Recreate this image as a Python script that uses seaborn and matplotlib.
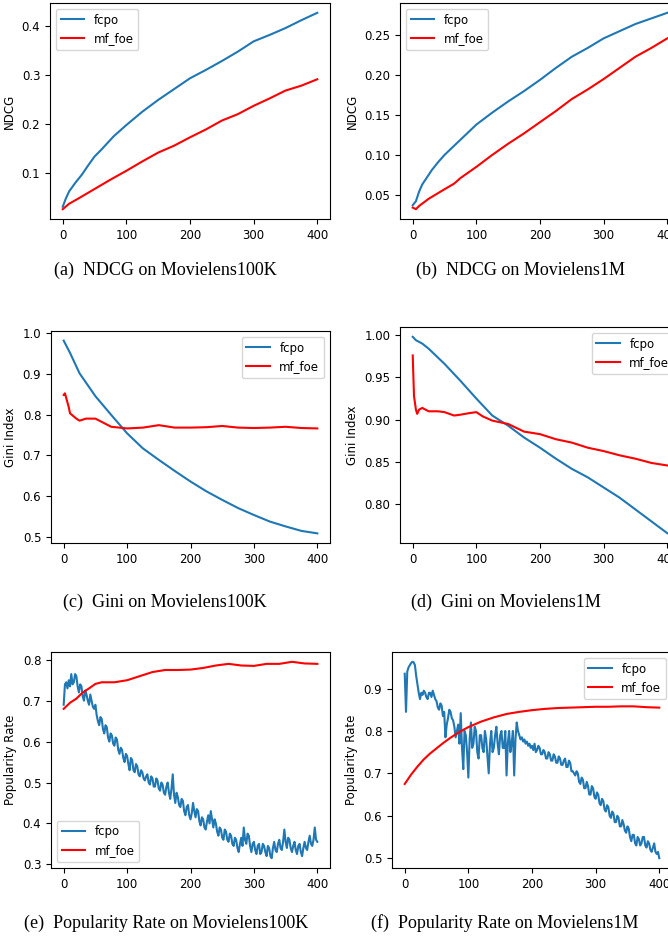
import numpy as np
import matplotlib
matplotlib.use("Agg")
import matplotlib.pyplot as plt
import seaborn as sns

BLUE = "#1f77b4"
RED = "red"

# ---------------- (a) NDCG on Movielens100K ----------------
a_fcpo_x = [0, 5, 10, 20, 30, 40, 50, 60, 70, 80, 100, 125, 150, 175, 200, 225, 250, 275, 300, 325, 350, 375, 400]
a_fcpo_y = [0.032, 0.049, 0.063, 0.081, 0.097, 0.116, 0.134, 0.147, 0.161, 0.175, 0.198, 0.225, 0.249, 0.271,
            0.293, 0.310, 0.328, 0.347, 0.368, 0.381, 0.395, 0.411, 0.426]
a_mf_x = [0, 10, 25, 50, 75, 100, 125, 150, 175, 200, 225, 250, 275, 300, 325, 350, 375, 400]
a_mf_y = [0.027, 0.038, 0.049, 0.068, 0.087, 0.105, 0.124, 0.142, 0.156, 0.173, 0.189, 0.207, 0.220, 0.237,
          0.252, 0.268, 0.278, 0.291]

# ---------------- (b) NDCG on Movielens1M ----------------
b_fcpo_x = [0, 5, 10, 15, 20, 30, 40, 50, 75, 100, 125, 150, 175, 200, 225, 250, 275, 300, 325, 350, 375, 400]
b_fcpo_y = [0.037, 0.042, 0.054, 0.063, 0.069, 0.081, 0.091, 0.100, 0.119, 0.138, 0.153, 0.167, 0.180, 0.194,
            0.209, 0.223, 0.234, 0.246, 0.255, 0.264, 0.271, 0.278]
b_mf_x = [0, 5, 10, 25, 50, 65, 75, 100, 125, 150, 175, 200, 225, 250, 275, 300, 325, 350, 375, 400]
b_mf_y = [0.034, 0.032, 0.036, 0.045, 0.057, 0.064, 0.071, 0.085, 0.100, 0.114, 0.127, 0.141, 0.155, 0.170,
          0.182, 0.195, 0.209, 0.223, 0.234, 0.246]

# ---------------- (c) Gini on Movielens100K ----------------
c_fcpo_x = [0, 10, 25, 50, 75, 100, 125, 150, 175, 200, 225, 250, 275, 300, 325, 350, 375, 400]
c_fcpo_y = [0.981, 0.951, 0.901, 0.845, 0.799, 0.754, 0.717, 0.689, 0.662, 0.636, 0.612, 0.591, 0.571, 0.554,
            0.538, 0.526, 0.515, 0.509]
c_mf_x = [0, 2, 5, 8, 10, 20, 25, 35, 50, 65, 75, 100, 125, 150, 175, 200, 225, 250, 275, 300, 325, 350, 375, 400]
c_mf_y = [0.848, 0.852, 0.835, 0.818, 0.803, 0.790, 0.785, 0.790, 0.790, 0.778, 0.770, 0.766, 0.768, 0.774,
          0.768, 0.768, 0.769, 0.772, 0.768, 0.767, 0.768, 0.770, 0.767, 0.766]

# ---------------- (d) Gini on Movielens1M ----------------
d_fcpo_x = [0, 5, 15, 25, 50, 75, 100, 125, 150, 175, 200, 225, 250, 275, 300, 325, 350, 375, 400]
d_fcpo_y = [0.998, 0.994, 0.990, 0.984, 0.966, 0.946, 0.925, 0.905, 0.893, 0.879, 0.867, 0.854, 0.842, 0.832,
            0.820, 0.808, 0.794, 0.780, 0.766]
d_mf_x = [0, 2, 5, 7, 10, 15, 20, 25, 40, 50, 65, 75, 90, 100, 110, 125, 150, 175, 200, 225, 250, 275, 300,
          325, 350, 375, 400]
d_mf_y = [0.976, 0.928, 0.912, 0.907, 0.912, 0.914, 0.912, 0.910, 0.910, 0.909, 0.905, 0.906, 0.908, 0.909,
          0.904, 0.899, 0.895, 0.886, 0.883, 0.877, 0.873, 0.867, 0.863, 0.858, 0.854, 0.849, 0.846]

# ---------------- (e) Popularity Rate on Movielens100K ----------------
e_fcpo_x = list(range(0, 401, 2))
e_fcpo_y = [0.69, 0.74, 0.745, 0.73, 0.75, 0.735, 0.765, 0.74, 0.745, 0.765, 0.76, 0.735, 0.72, 0.74, 0.735, 0.71, 0.70, 0.725, 0.715, 0.70,
            0.69, 0.715, 0.70, 0.685, 0.68, 0.69, 0.665, 0.65, 0.64, 0.66, 0.655, 0.63, 0.62, 0.64, 0.635, 0.61, 0.60, 0.62, 0.615, 0.595,
            0.59, 0.61, 0.605, 0.58, 0.57, 0.585, 0.58, 0.56, 0.55, 0.57, 0.565, 0.545, 0.53, 0.56, 0.555, 0.53, 0.525, 0.545, 0.54, 0.52,
            0.515, 0.53, 0.525, 0.51, 0.505, 0.515, 0.52, 0.50, 0.495, 0.515, 0.51, 0.49, 0.49, 0.51, 0.505, 0.485, 0.48, 0.50, 0.495, 0.475,
            0.47, 0.49, 0.50, 0.475, 0.46, 0.485, 0.52, 0.47, 0.45, 0.475, 0.465, 0.445, 0.44, 0.46, 0.455, 0.43, 0.42, 0.44, 0.445, 0.42,
            0.41, 0.425, 0.45, 0.43, 0.415, 0.435, 0.43, 0.405, 0.395, 0.415, 0.41, 0.39, 0.385, 0.405, 0.42, 0.40, 0.43, 0.41, 0.39, 0.41,
            0.40, 0.38, 0.37, 0.39, 0.385, 0.365, 0.36, 0.385, 0.38, 0.36, 0.355, 0.375, 0.37, 0.35, 0.345, 0.365, 0.36, 0.34, 0.33, 0.35,
            0.365, 0.345, 0.39, 0.36, 0.35, 0.375, 0.37, 0.345, 0.33, 0.35, 0.355, 0.335, 0.325, 0.345, 0.35, 0.325, 0.33, 0.35, 0.345, 0.33,
            0.32, 0.345, 0.34, 0.32, 0.315, 0.34, 0.355, 0.335, 0.33, 0.35, 0.36, 0.34, 0.335, 0.355, 0.385, 0.355, 0.34, 0.365, 0.36, 0.34,
            0.33, 0.345, 0.355, 0.335, 0.325, 0.345, 0.35, 0.33, 0.32, 0.34, 0.355, 0.34, 0.335, 0.355, 0.37, 0.35, 0.345, 0.36, 0.39, 0.36,
            0.355]
e_mf_x = [0, 10, 20, 30, 40, 50, 60, 80, 100, 120, 140, 160, 180, 200, 220, 240, 260, 280, 300, 320, 340, 360, 380, 400]
e_mf_y = [0.680, 0.695, 0.705, 0.720, 0.730, 0.741, 0.745, 0.745, 0.750, 0.760, 0.770, 0.775, 0.775, 0.776,
          0.780, 0.786, 0.790, 0.786, 0.785, 0.790, 0.790, 0.795, 0.791, 0.790]

# ---------------- (f) Popularity Rate on Movielens1M ----------------
f_fcpo_x = list(range(0, 401, 2))
f_fcpo_y = [0.935, 0.845, 0.94, 0.95, 0.955, 0.96, 0.963, 0.962, 0.955, 0.93, 0.91, 0.89, 0.875, 0.89, 0.885, 0.895, 0.89, 0.88, 0.875, 0.89,
            0.89, 0.88, 0.895, 0.885, 0.875, 0.87, 0.855, 0.85, 0.865, 0.86, 0.835, 0.845, 0.785, 0.815, 0.83, 0.85, 0.845, 0.83, 0.825, 0.81,
            0.785, 0.80, 0.815, 0.77, 0.842, 0.76, 0.71, 0.80, 0.79, 0.75, 0.69, 0.78, 0.82, 0.76, 0.77, 0.81, 0.80, 0.75, 0.735, 0.79,
            0.79, 0.76, 0.75, 0.80, 0.78, 0.74, 0.70, 0.77, 0.80, 0.75, 0.76, 0.79, 0.81, 0.77, 0.745, 0.79, 0.80, 0.76, 0.76, 0.80,
            0.695, 0.77, 0.80, 0.75, 0.77, 0.80, 0.695, 0.78, 0.82, 0.80, 0.79, 0.78, 0.785, 0.775, 0.78, 0.77, 0.775, 0.765, 0.77, 0.76,
            0.765, 0.755, 0.77, 0.75, 0.755, 0.765, 0.76, 0.745, 0.745, 0.755, 0.75, 0.735, 0.735, 0.75, 0.745, 0.73, 0.73, 0.745, 0.74, 0.725,
            0.725, 0.74, 0.735, 0.72, 0.72, 0.73, 0.735, 0.715, 0.715, 0.73, 0.725, 0.705, 0.705, 0.70, 0.695, 0.705, 0.70, 0.68, 0.675, 0.69,
            0.685, 0.665, 0.665, 0.68, 0.67, 0.65, 0.65, 0.67, 0.665, 0.645, 0.64, 0.655, 0.65, 0.63, 0.625, 0.64, 0.635, 0.615, 0.61, 0.625,
            0.62, 0.60, 0.595, 0.61, 0.605, 0.585, 0.585, 0.60, 0.595, 0.575, 0.575, 0.59, 0.58, 0.565, 0.56, 0.575, 0.57, 0.55, 0.54, 0.555,
            0.555, 0.535, 0.53, 0.55, 0.545, 0.53, 0.535, 0.55, 0.55, 0.53, 0.525, 0.54, 0.535, 0.52, 0.515, 0.525, 0.535, 0.515, 0.51, 0.515,
            0.50]
f_mf_x = [0, 10, 20, 30, 40, 50, 60, 70, 80, 90, 100, 120, 140, 160, 180, 200, 220, 240, 260, 280, 300, 320,
          340, 360, 380, 400]
f_mf_y = [0.675, 0.697, 0.716, 0.733, 0.747, 0.759, 0.771, 0.782, 0.792, 0.801, 0.809, 0.822, 0.832, 0.840,
          0.845, 0.849, 0.852, 0.854, 0.855, 0.856, 0.857, 0.857, 0.858, 0.858, 0.856, 0.855]

series_names = ["fcpo", "mf_foe"]
ylabels = ["NDCG", "NDCG", "Gini Index", "Gini Index", "Popularity Rate", "Popularity Rate"]
captions = ["(a)  NDCG on Movielens100K", "(b)  NDCG on Movielens1M",
            "(c)  Gini on Movielens100K", "(d)  Gini on Movielens1M",
            "(e)  Popularity Rate on Movielens100K", "(f)  Popularity Rate on Movielens1M"]
xticks = [0, 100, 200, 300, 400]
yticks = [[0.1, 0.2, 0.3, 0.4],
          [0.05, 0.10, 0.15, 0.20, 0.25],
          [0.5, 0.6, 0.7, 0.8, 0.9, 1.0],
          [0.80, 0.85, 0.90, 0.95, 1.00],
          [0.3, 0.4, 0.5, 0.6, 0.7, 0.8],
          [0.5, 0.6, 0.7, 0.8, 0.9]]
ytick_fmt = ["%.1f", "%.2f", "%.1f", "%.2f", "%.1f", "%.1f"]

panels = [
    (a_fcpo_x, a_fcpo_y, a_mf_x, a_mf_y),
    (b_fcpo_x, b_fcpo_y, b_mf_x, b_mf_y),
    (c_fcpo_x, c_fcpo_y, c_mf_x, c_mf_y),
    (d_fcpo_x, d_fcpo_y, d_mf_x, d_mf_y),
    (e_fcpo_x, e_fcpo_y, e_mf_x, e_mf_y),
    (f_fcpo_x, f_fcpo_y, f_mf_x, f_mf_y),
]

W, H = 668, 939
# axes boxes in pixels: left, top, right, bottom
boxes = [(50, 3, 330, 219), (400, 3, 680, 219),
         (51, 331, 330, 543), (400, 327, 680, 543),
         (51, 652, 330, 868), (392, 652, 672, 868)]
legend_locs = ["upper left", "upper left", "upper right", "upper right", "lower left", "upper right"]
caption_pos = [(165, 270), (520, 270), (165, 602), (506, 602), (166, 923), (505, 923)]

fig = plt.figure(figsize=(W / 100, H / 100), dpi=100)
for i, (fx, fy, mx, my) in enumerate(panels):
    l, t, r, b = boxes[i]
    ax = fig.add_axes([l / W, 1 - b / H, (r - l) / W, (b - t) / H])
    sns.lineplot(x=fx, y=fy, ax=ax, color=BLUE, linewidth=1.5, label=series_names[0])
    sns.lineplot(x=mx, y=my, ax=ax, color=RED, linewidth=1.5, label=series_names[1])
    ax.set_xticks(xticks)
    ax.set_yticks(yticks[i])
    ax.set_yticklabels([ytick_fmt[i] % v for v in yticks[i]])
    ax.tick_params(labelsize=8.5)
    ax.set_ylabel(ylabels[i], fontsize=8.5)
    ax.set_xlabel("")
    ax.legend(loc=legend_locs[i], fontsize=8.5)
    cx, cy = caption_pos[i]
    fig.text(cx / W, 1 - cy / H, captions[i], ha="center", va="center",
             fontsize=13, family="Liberation Serif")

fig.savefig("out.png", dpi=100)
